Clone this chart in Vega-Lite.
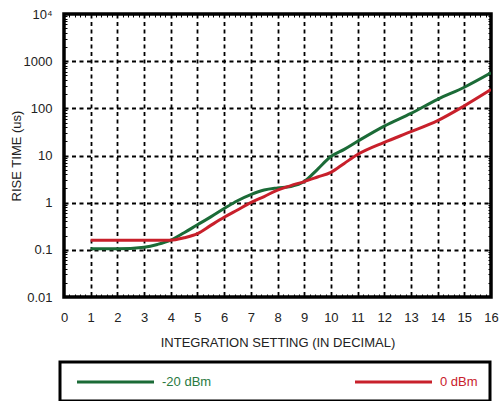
{
  "$schema": "https://vega.github.io/schema/vega-lite/v6.json",
  "autosize": {"type": "none"},
  "width": 427,
  "height": 283,
  "padding": {"left": 64, "top": 14, "right": 9, "bottom": 104},
  "background": "white",
  "config": {
    "font": "Liberation Sans",
    "view": {"stroke": "black", "strokeWidth": 3.5},
    "legend": {"strokeColor": "black", "strokeWidth": 3},
    "axis": {
      "labelFont": "Liberation Sans",
      "titleFont": "Liberation Sans",
      "labelFontSize": 13,
      "titleFontSize": 13,
      "titleFontWeight": "normal",
      "labelColor": "#222222",
      "titleColor": "#222222",
      "domain": false,
      "tickColor": "black",
      "tickWidth": 1,
      "gridColor": "black",
      "gridWidth": 1.8,
      "gridDash": [4, 3.5],
      "labelOverlap": false,
      "labelFlush": false,
      "labelBound": false
    }
  },
  "data": {
    "values": [
      {"series": "-20 dBm", "x": 1, "y": 0.105},
      {"series": "-20 dBm", "x": 2, "y": 0.105},
      {"series": "-20 dBm", "x": 3, "y": 0.114},
      {"series": "-20 dBm", "x": 3.5, "y": 0.13},
      {"series": "-20 dBm", "x": 4, "y": 0.16},
      {"series": "-20 dBm", "x": 4.5, "y": 0.23},
      {"series": "-20 dBm", "x": 5, "y": 0.34},
      {"series": "-20 dBm", "x": 5.5, "y": 0.5},
      {"series": "-20 dBm", "x": 6, "y": 0.75},
      {"series": "-20 dBm", "x": 6.5, "y": 1.1},
      {"series": "-20 dBm", "x": 7, "y": 1.48},
      {"series": "-20 dBm", "x": 7.5, "y": 1.85},
      {"series": "-20 dBm", "x": 8, "y": 2.05},
      {"series": "-20 dBm", "x": 8.5, "y": 2.2},
      {"series": "-20 dBm", "x": 9, "y": 2.8},
      {"series": "-20 dBm", "x": 9.5, "y": 5.1},
      {"series": "-20 dBm", "x": 10, "y": 9.5},
      {"series": "-20 dBm", "x": 10.5, "y": 13.5},
      {"series": "-20 dBm", "x": 11, "y": 20},
      {"series": "-20 dBm", "x": 12, "y": 42},
      {"series": "-20 dBm", "x": 13, "y": 78},
      {"series": "-20 dBm", "x": 14, "y": 155},
      {"series": "-20 dBm", "x": 15, "y": 280},
      {"series": "-20 dBm", "x": 16, "y": 565},
      {"series": "0 dBm", "x": 1, "y": 0.16},
      {"series": "0 dBm", "x": 2, "y": 0.16},
      {"series": "0 dBm", "x": 3, "y": 0.16},
      {"series": "0 dBm", "x": 4, "y": 0.16},
      {"series": "0 dBm", "x": 4.5, "y": 0.18},
      {"series": "0 dBm", "x": 5, "y": 0.22},
      {"series": "0 dBm", "x": 5.5, "y": 0.33},
      {"series": "0 dBm", "x": 6, "y": 0.49},
      {"series": "0 dBm", "x": 6.5, "y": 0.7},
      {"series": "0 dBm", "x": 7, "y": 1.0},
      {"series": "0 dBm", "x": 7.5, "y": 1.35},
      {"series": "0 dBm", "x": 8, "y": 1.85},
      {"series": "0 dBm", "x": 8.5, "y": 2.3},
      {"series": "0 dBm", "x": 9, "y": 2.8},
      {"series": "0 dBm", "x": 9.5, "y": 3.5},
      {"series": "0 dBm", "x": 10, "y": 4.4},
      {"series": "0 dBm", "x": 10.5, "y": 6.8},
      {"series": "0 dBm", "x": 11, "y": 10.5},
      {"series": "0 dBm", "x": 12, "y": 19},
      {"series": "0 dBm", "x": 13, "y": 32},
      {"series": "0 dBm", "x": 14, "y": 55},
      {"series": "0 dBm", "x": 15, "y": 113},
      {"series": "0 dBm", "x": 16, "y": 250}
    ]
  },
  "layer": [
    {
      "mark": {"type": "line", "interpolate": "monotone", "strokeWidth": 3, "clip": true},
      "encoding": {
        "x": {
          "field": "x", "type": "quantitative",
          "scale": {"domain": [0, 16], "nice": false, "zero": false},
          "axis": {
            "title": "INTEGRATION SETTING (IN DECIMAL)",
            "orient": "bottom",
            "values": [0,0.2,0.4,0.6,0.8,1,1.2,1.4,1.6,1.8,2,2.2,2.4,2.6,2.8,3,3.2,3.4,3.6,3.8,4,4.2,4.4,4.6,4.8,5,5.2,5.4,5.6,5.8,6,6.2,6.4,6.6,6.8,7,7.2,7.4,7.6,7.8,8,8.2,8.4,8.6,8.8,9,9.2,9.4,9.6,9.8,10,10.2,10.4,10.6,10.8,11,11.2,11.4,11.6,11.8,12,12.2,12.4,12.6,12.8,13,13.2,13.4,13.6,13.8,14,14.2,14.4,14.6,14.8,15,15.2,15.4,15.6,15.8,16],
            "tickSize": -3,
            "labelPadding": 17,
            "titlePadding": 12,
            "labelExpr": "abs(datum.value - round(datum.value)) < 0.001 ? format(datum.value, 'd') : ''",
            "gridOpacity": {"condition": {"test": "abs(datum.value - round(datum.value)) > 0.001 || datum.value < 0.5 || datum.value > 15.5", "value": 0}, "value": 1}
          }
        },
        "y": {
          "field": "y", "type": "quantitative",
          "scale": {"type": "log", "domain": [0.01, 10000], "nice": false},
          "axis": {
            "title": "RISE TIME (us)",
            "orient": "left",
            "values": [0.01,0.02,0.03,0.04,0.05,0.06,0.07,0.08,0.09,0.1,0.2,0.3,0.4,0.5,0.6,0.7,0.8,0.9,1,2,3,4,5,6,7,8,9,10,20,30,40,50,60,70,80,90,100,200,300,400,500,600,700,800,900,1000,2000,3000,4000,5000,6000,7000,8000,9000,10000],
            "tickSize": -3,
            "labelPadding": 15,
            "titleX": -48,
            "titleBaseline": "middle",
            "labelExpr": "abs(log(datum.value)/LN10 - round(log(datum.value)/LN10)) < 0.001 ? (datum.value >= 9999 ? '10⁴' : format(datum.value, '~g')) : ''",
            "gridOpacity": {"condition": {"test": "abs(log(datum.value)/LN10 - round(log(datum.value)/LN10)) > 0.001 || datum.value < 0.015 || datum.value > 5000", "value": 0}, "value": 1}
          }
        },
        "color": {
          "field": "series", "type": "nominal",
          "scale": {"domain": ["-20 dBm", "0 dBm"], "range": ["#1b6b37", "#c8202b"]},
          "legend": {
            "title": null,
            "orient": "none",
            "legendX": -4,
            "legendY": 348,
            "direction": "horizontal",
            "columns": 2,
            "symbolType": "stroke",
            "symbolSize": 100,
            "symbolStrokeWidth": 3,
            "labelFont": "Liberation Sans",
            "labelFontSize": 13,
            "labelOffset": 8,
            "columnPadding": 137,
            "padding": 12,
            "strokeColor": "black",
            "encode": {
              "symbols": {"update": {"size": {"value": 5929}, "x": {"value": 43.5}, "y": {"value": 8}}},
              "labels": {"update": {
                "x": {"value": 90}, "y": {"value": 8}, "baseline": {"value": "middle"},
                "fill": [{"test": "datum.label == '-20 dBm'", "value": "#2a7a3f"}, {"value": "#c8202b"}]
              }}
            }
          }
        }
      }
    },
    {
      "mark": {"type": "point", "opacity": 0},
      "encoding": {
        "x": {
          "field": "x", "type": "quantitative",
          "axis": {
            "orient": "top", "title": null, "labels": false, "grid": false,
            "tickSize": -3,
            "values": [0,0.2,0.4,0.6,0.8,1,1.2,1.4,1.6,1.8,2,2.2,2.4,2.6,2.8,3,3.2,3.4,3.6,3.8,4,4.2,4.4,4.6,4.8,5,5.2,5.4,5.6,5.8,6,6.2,6.4,6.6,6.8,7,7.2,7.4,7.6,7.8,8,8.2,8.4,8.6,8.8,9,9.2,9.4,9.6,9.8,10,10.2,10.4,10.6,10.8,11,11.2,11.4,11.6,11.8,12,12.2,12.4,12.6,12.8,13,13.2,13.4,13.6,13.8,14,14.2,14.4,14.6,14.8,15,15.2,15.4,15.6,15.8,16]
          }
        },
        "y": {
          "field": "y", "type": "quantitative",
          "axis": {
            "orient": "right", "title": null, "labels": false, "grid": false,
            "tickSize": -3,
            "values": [0.01,0.02,0.03,0.04,0.05,0.06,0.07,0.08,0.09,0.1,0.2,0.3,0.4,0.5,0.6,0.7,0.8,0.9,1,2,3,4,5,6,7,8,9,10,20,30,40,50,60,70,80,90,100,200,300,400,500,600,700,800,900,1000,2000,3000,4000,5000,6000,7000,8000,9000,10000]
          }
        }
      }
    }
  ],
  "resolve": {"axis": {"x": "independent", "y": "independent"}}
}
